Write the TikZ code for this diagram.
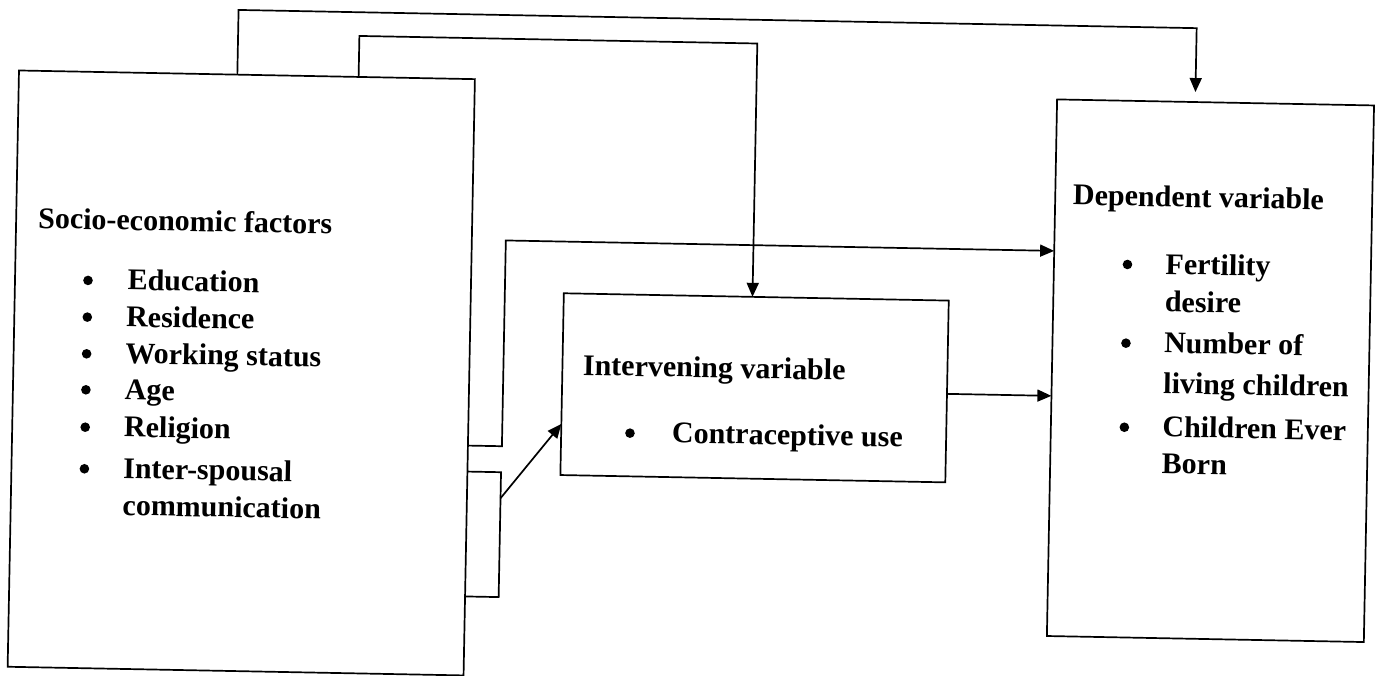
\documentclass[tikz,border=0pt]{standalone}
\usepackage{fontspec}
\setmainfont{Liberation Serif}
\usetikzlibrary{arrows.meta}
\tikzset{
  box/.style={draw, line width=1.7pt, rectangle, anchor=north west, inner sep=0pt, outer sep=0pt},
  conn/.style={line width=1.7pt},
  arr/.style={conn, -{Triangle[length=14pt,width=12pt]}},
  txt/.style={anchor=base west, inner sep=0pt, font=\fontsize{30}{36}\selectfont\bfseries},
  dot/.style={circle, fill=black, inner sep=0pt, minimum size=9.6pt, yshift=8.8pt},
}
\begin{document}
\begin{tikzpicture}[x=1pt,y=-1pt]
\useasboundingbox[fill=white] (0,0) rectangle (1382,676);
\begin{scope}[rotate around={-1.09:(691,338)}, transform shape]
  % boxes
  \node[box, minimum width=456pt, minimum height=596.4pt] (lbox) at (14,83.3) {};
  \node[box, minimum width=385pt, minimum height=181.8pt] (mbox) at (563,295.7) {};
  \node[box, minimum width=317pt, minimum height=536.7pt] (rbox) at (1052.5,92.5) {};

  % left box text
  \node[txt] (soc) at (35.9,240.7) {Socio-economic factors};
  \node[dot] (b1) at (87,300.7) {}; \node[txt] (edu) at (126.5,300.7) {Education};
  \node[dot] (b2) at (87,337.4) {}; \node[txt] (res) at (125.7,337.4) {Residence};
  \node[dot] (b3) at (87,374.1) {}; \node[txt] (wor) at (125.7,374.1) {Working status};
  \node[dot] (b4) at (87,410.1) {}; \node[txt] (age) at (125.7,410.1) {Age};
  \node[dot] (b5) at (87,447.5) {}; \node[txt] (rel) at (125.7,447.5) {Religion};
  \node[dot] (b6) at (87,489.1) {}; \node[txt] (int) at (125.7,489.1) {Inter-spousal};
  \node[txt] (com) at (125.7,525.8) {communication};

  % middle box text
  \node[txt] (ivar) at (583.4,377.1) {Intervening variable};
  \node[dot] (b7) at (631.8,443.1) {}; \node[txt] (con) at (673.7,443.1) {Contraceptive use};

  % right box text
  \node[txt] (dvar) at (1070.2,197.7) {Dependent variable};
  \node[dot] (b8) at (1126,265) {}; \node[txt] (fer) at (1164,265) {Fertility};
  \node[txt] (des) at (1164,302.7) {desire};
  \node[dot] (b9) at (1126,343.7) {}; \node[txt] (num) at (1164,343.7) {Number of};
  \node[txt] (liv) at (1164,384.3) {living children};
  \node[dot] (b10) at (1126,427.8) {}; \node[txt] (chi) at (1164,427.8) {Children Ever};
  \node[txt] (bor) at (1164,464.4) {Born};

  % connectors
  \draw[arr, shorten >=10pt] (232.4,0 |- lbox.north) -- (232.4,18.6) -| (1190.7,0 |- rbox.north);
  \draw[arr] (353.7,0 |- lbox.north) -- (353.7,42.3) -| (751.7,0 |- mbox.north);
  \draw[arr] (lbox.east |- 0,449.8) -| (504,244) -- (rbox.west |- 0,244);
  \draw[conn] (lbox.east |- 0,475.8) -- (503.6,475.8) -- (503.6,600.7) -- (lbox.east |- 0,600.7);
  \coordinate (bk) at (503.6,501.9);
  \draw[arr] (bk) -- (mbox.west |- 0,426.5);
  \draw[arr] (mbox.east |- 0,389) -- (rbox.west |- 0,389);
\end{scope}
\end{tikzpicture}
\end{document}
